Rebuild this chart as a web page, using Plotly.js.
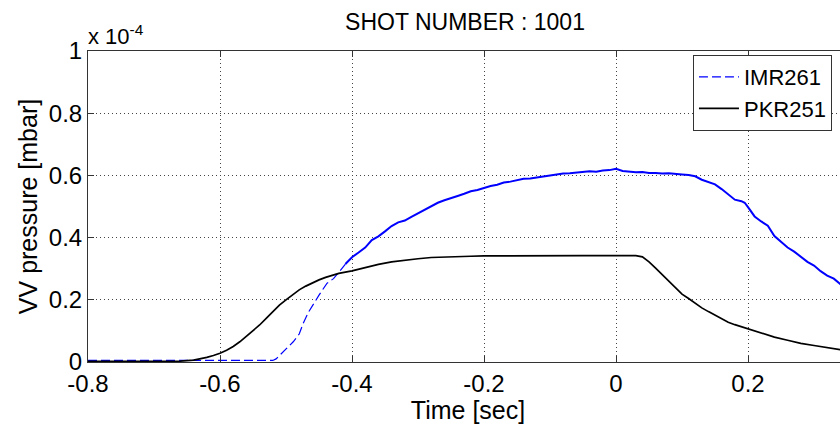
<!DOCTYPE html>
<html>
<head>
<meta charset="utf-8">
<script src="https://cdn.plot.ly/plotly-3.0.1.min.js"></script>
<style>
html, body { margin: 0; padding: 0; overflow: hidden; background: #fff; }
#chart { width: 850px; height: 424px; }
</style>
</head>
<body>
<div id="chart"></div>
<script>
// Values in units of 1e-4 mbar
const imrTimeDashed = [-0.8, -0.52, -0.515, -0.505, -0.495, -0.489, -0.48, -0.474, -0.466, -0.458, -0.45, -0.438, -0.428, -0.42, -0.41];
const imrValDashed  = [0.005, 0.005, 0.010, 0.030, 0.052, 0.065, 0.090, 0.124, 0.160, 0.189, 0.215, 0.253, 0.268, 0.288, 0.315];

const imrTime = [-0.41, -0.40, -0.39, -0.38, -0.37, -0.36, -0.35, -0.34, -0.33, -0.32, -0.31, -0.30, -0.29, -0.28, -0.27, -0.26, -0.25, -0.24, -0.23, -0.22, -0.21, -0.20, -0.19, -0.18, -0.17, -0.16, -0.15, -0.14, -0.13, -0.12, -0.11, -0.10, -0.09, -0.08, -0.07, -0.06, -0.05, -0.04, -0.03, -0.02, -0.01, 0.0, 0.01, 0.02, 0.03, 0.04, 0.05, 0.06, 0.07, 0.08, 0.09, 0.10, 0.11, 0.12, 0.13, 0.14, 0.15, 0.16, 0.17, 0.18, 0.19, 0.195, 0.20, 0.21, 0.22, 0.23, 0.24, 0.25, 0.26, 0.27, 0.28, 0.29, 0.30, 0.31, 0.32, 0.33, 0.34, 0.35];
const imrVal  = [0.315, 0.337, 0.352, 0.368, 0.392, 0.404, 0.420, 0.437, 0.449, 0.455, 0.467, 0.478, 0.488, 0.499, 0.512, 0.520, 0.528, 0.534, 0.541, 0.549, 0.553, 0.560, 0.566, 0.570, 0.577, 0.580, 0.584, 0.589, 0.590, 0.593, 0.597, 0.601, 0.602, 0.606, 0.607, 0.609, 0.611, 0.613, 0.612, 0.616, 0.617, 0.621, 0.614, 0.612, 0.610, 0.611, 0.608, 0.608, 0.606, 0.607, 0.604, 0.603, 0.601, 0.597, 0.586, 0.578, 0.571, 0.556, 0.540, 0.522, 0.517, 0.512, 0.498, 0.468, 0.452, 0.438, 0.405, 0.385, 0.368, 0.355, 0.338, 0.322, 0.310, 0.292, 0.278, 0.268, 0.250, 0.238];

const pkrTime = [-0.8, -0.7, -0.66, -0.64, -0.63, -0.62, -0.61, -0.60, -0.59, -0.58, -0.57, -0.56, -0.55, -0.54, -0.53, -0.52, -0.51, -0.50, -0.49, -0.48, -0.47, -0.46, -0.45, -0.44, -0.43, -0.42, -0.40, -0.38, -0.36, -0.34, -0.32, -0.30, -0.28, -0.26, -0.24, -0.22, -0.20, -0.15, -0.10, -0.05, 0.0, 0.03, 0.04, 0.05, 0.06, 0.07, 0.08, 0.09, 0.10, 0.11, 0.12, 0.13, 0.14, 0.15, 0.16, 0.17, 0.18, 0.20, 0.22, 0.24, 0.26, 0.28, 0.30, 0.32, 0.34, 0.35];
const pkrVal  = [0.002, 0.002, 0.003, 0.006, 0.010, 0.015, 0.021, 0.028, 0.038, 0.050, 0.065, 0.082, 0.100, 0.119, 0.140, 0.162, 0.183, 0.200, 0.217, 0.232, 0.244, 0.255, 0.264, 0.272, 0.279, 0.285, 0.293, 0.304, 0.314, 0.322, 0.328, 0.332, 0.336, 0.338, 0.339, 0.340, 0.341, 0.342, 0.342, 0.342, 0.342, 0.342, 0.338, 0.322, 0.302, 0.281, 0.257, 0.236, 0.218, 0.204, 0.189, 0.174, 0.162, 0.150, 0.139, 0.128, 0.120, 0.106, 0.093, 0.080, 0.070, 0.060, 0.053, 0.046, 0.039, 0.036];

const xTicks = [-0.8, -0.6, -0.4, -0.2, 0, 0.2];
const xTickLabels = ['-0.8', '-0.6', '-0.4', '-0.2', '0', '0.2'];
const yTicks = [0, 0.2, 0.4, 0.6, 0.8, 1];
const yTickLabels = ['0', '0.2', '0.4', '0.6', '0.8', '1'];

const FONT = 'Liberation Sans, Arial, Helvetica, sans-serif';

const traces = [
  { x: imrTimeDashed, y: imrValDashed, name: 'IMR261', mode: 'lines', legendgroup: 'imr',
    line: { color: '#0000ff', width: 1.2, dash: '9px,4px' } },
  { x: imrTime, y: imrVal, name: 'IMR261', mode: 'lines', legendgroup: 'imr', showlegend: false,
    line: { color: '#0000ff', width: 2 } },
  { x: pkrTime, y: pkrVal, name: 'PKR251', mode: 'lines',
    line: { color: '#000000', width: 1.7 } }
];

const axisCommon = {
  showline: true, linecolor: '#333', linewidth: 1, mirror: 'ticks',
  ticks: 'inside', ticklen: 6, tickcolor: '#333',
  showgrid: true, gridcolor: '#444', griddash: '1px,3px', gridwidth: 1,
  zeroline: false, tickfont: { family: FONT, size: 24, color: '#000' }
};

const layout = {
  width: 850, height: 424,
  margin: { l: 88, r: 2, t: 51, b: 62 },
  paper_bgcolor: '#fff', plot_bgcolor: '#fff',
  font: { family: FONT, color: '#000' },
  title: { text: 'SHOT NUMBER : 1001', font: { family: FONT, size: 23, color: '#000' },
           xref: 'container', x: 465 / 850, xanchor: 'center', yref: 'container', y: 1 - 22 / 424, yanchor: 'middle' },
  xaxis: Object.assign({}, axisCommon, {
    range: [-0.8, 0.3515], tickmode: 'array', tickvals: xTicks, ticktext: xTickLabels,
    title: { text: 'Time [sec]', font: { family: FONT, size: 25, color: '#000' }, standoff: 0 }
  }),
  yaxis: Object.assign({}, axisCommon, {
    range: [0, 1], tickmode: 'array', tickvals: yTicks, ticktext: yTickLabels,
    title: { text: 'VV pressure [mbar]', font: { family: FONT, size: 25, color: '#000' }, standoff: 4 }
  }),
  showlegend: true,
  legend: {
    x: 0.796, y: 0.987, xanchor: 'left', yanchor: 'top',
    bgcolor: '#fff', bordercolor: '#333', borderwidth: 1,
    font: { family: FONT, size: 22, color: '#000' }, itemwidth: 40, tracegroupgap: 0
  },
  annotations: [
    { text: 'x 10<sup>-4</sup>', xref: 'paper', yref: 'paper', x: 0, y: 1, xanchor: 'left', yanchor: 'bottom',
      showarrow: false, font: { family: FONT, size: 22, color: '#000' }, xshift: -2, yshift: 0 }
  ]
};

Plotly.newPlot('chart', traces, layout, { displayModeBar: false, staticPlot: true });
</script>
</body>
</html>
